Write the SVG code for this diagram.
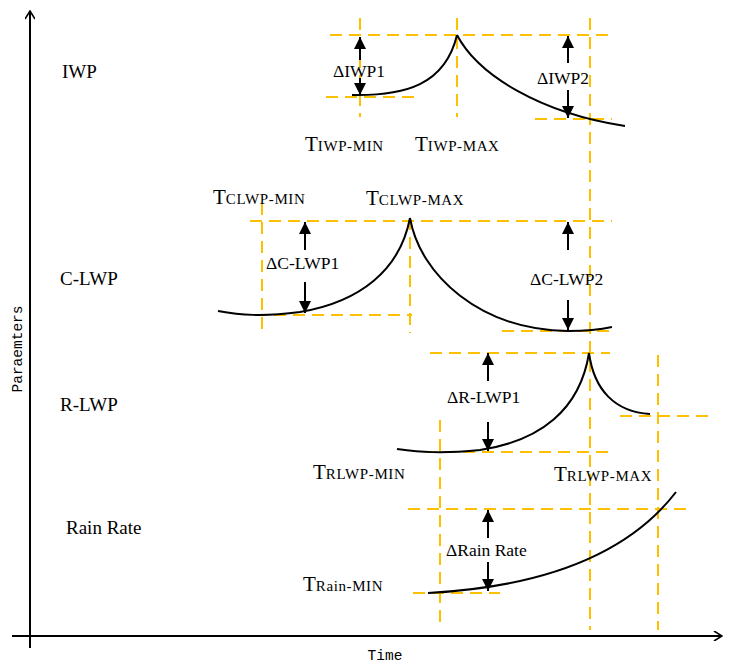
<svg xmlns="http://www.w3.org/2000/svg" width="732" height="668" viewBox="0 0 732 668">
<defs>
<marker id="open" viewBox="0 0 10 10" refX="9" refY="5" markerWidth="10" markerHeight="10" markerUnits="userSpaceOnUse" orient="auto">
<path d="M1,0 L9,5 L1,10" fill="none" stroke="#000" stroke-width="1.6"/>
</marker>
<marker id="tri" viewBox="0 0 10 10" refX="10" refY="5" markerWidth="14" markerHeight="12" markerUnits="userSpaceOnUse" orient="auto">
<path d="M0,0 L10,5 L0,10 Z" fill="#000"/>
</marker>
</defs>
<style>
.axis{stroke:#000;stroke-width:2;fill:none}
.dash{stroke:#FFC000;stroke-width:2;stroke-dasharray:12,7;fill:none}
.curve{stroke:#000;stroke-width:2;fill:none}
.arr{stroke:#000;stroke-width:2;fill:none;marker-end:url(#tri)}
.lbl{font-family:"Liberation Serif",serif;font-size:19px;fill:#000}
.dl{font-family:"Liberation Serif",serif;font-size:17.5px;fill:#000}
.t{font-family:"Liberation Serif",serif;font-size:21px;fill:#000}
.sub{font-size:15px;letter-spacing:0.6px}
.ax{font-family:"Liberation Mono",monospace;font-size:14.5px;fill:#000}
</style>
<rect width="732" height="668" fill="#fff"/>
<g id="axes">
<line class="axis" x1="30" y1="648" x2="30" y2="11" marker-end="url(#open)"/>
<line class="axis" x1="12" y1="636" x2="722" y2="636" marker-end="url(#open)"/>
<text class="ax" transform="translate(22,349) rotate(-90)" text-anchor="middle">Paraemters</text>
<text class="ax" x="385" y="660" text-anchor="middle">Time</text>
</g>
<g id="row-labels">
<text class="lbl" x="62" y="78">IWP</text>
<text class="lbl" x="60" y="285">C-LWP</text>
<text class="lbl" x="60" y="411">R-LWP</text>
<text class="lbl" x="66" y="534">Rain Rate</text>
</g>
<g id="guides">
<line class="dash" x1="330" y1="35" x2="612" y2="35"/>
<line class="dash" x1="360" y1="18" x2="360" y2="117"/>
<line class="dash" x1="457" y1="18" x2="457" y2="117"/>
<line class="dash" x1="590" y1="18" x2="590" y2="630"/>
<line class="dash" x1="326" y1="97" x2="416" y2="97"/>
<line class="dash" x1="535" y1="119" x2="612" y2="119"/>
<line class="dash" x1="250" y1="221" x2="612" y2="221"/>
<line class="dash" x1="262" y1="203" x2="262" y2="333"/>
<line class="dash" x1="410" y1="218" x2="410" y2="333"/>
<line class="dash" x1="255" y1="315" x2="412" y2="315"/>
<line class="dash" x1="502" y1="331" x2="612" y2="331"/>
<line class="dash" x1="430" y1="353" x2="610" y2="353"/>
<line class="dash" x1="658" y1="355" x2="658" y2="630"/>
<line class="dash" x1="620" y1="416" x2="708" y2="416"/>
<line class="dash" x1="425" y1="452" x2="608" y2="452"/>
<line class="dash" x1="440" y1="420" x2="440" y2="625"/>
<line class="dash" x1="408" y1="509" x2="686" y2="509"/>
<line class="dash" x1="413" y1="593" x2="500" y2="593"/>
</g>
<g id="curves">
<path class="curve" d="M352,95 C405,96 445,85 457,35"/>
<path class="curve" d="M457,35 C478,75 540,113 625,126"/>
<path class="curve" d="M218,311 C240,315 262,317 300,312 C360,302 400,270 410,218"/>
<path class="curve" d="M410,218 C420,275 480,330 568,331 C590,331 603,329 612,327"/>
<path class="curve" d="M397,449 C420,452 440,454 480,450 C540,441 580,410 589,353"/>
<path class="curve" d="M589,353 C594,390 615,412 650,414"/>
<path class="curve" d="M428,593 C520,588 620,565 676,492"/>
</g>
<g id="arrows">
<line class="arr" x1="360" y1="60" x2="360" y2="37"/>
<line class="arr" x1="360" y1="78" x2="360" y2="95"/>
<line class="arr" x1="568" y1="63" x2="568" y2="36"/>
<line class="arr" x1="568" y1="90" x2="568" y2="118"/>
<line class="arr" x1="305" y1="250" x2="305" y2="222"/>
<line class="arr" x1="305" y1="282" x2="305" y2="313"/>
<line class="arr" x1="568" y1="250" x2="568" y2="222"/>
<line class="arr" x1="568" y1="300" x2="568" y2="330"/>
<line class="arr" x1="488" y1="381" x2="488" y2="353"/>
<line class="arr" x1="488" y1="422" x2="488" y2="451"/>
<line class="arr" x1="488" y1="538" x2="488" y2="510"/>
<line class="arr" x1="488" y1="562" x2="488" y2="591"/>
</g>
<g id="delta-labels">
<text class="dl" x="333" y="77">ΔIWP1</text>
<text class="dl" x="537" y="84">ΔIWP2</text>
<text class="dl" x="266" y="269">ΔC-LWP1</text>
<text class="dl" x="530" y="285">ΔC-LWP2</text>
<text class="dl" x="447" y="403">ΔR-LWP1</text>
<text class="dl" x="446" y="556">ΔRain Rate</text>
</g>
<g id="time-labels">
<text class="t" x="305" y="151">T<tspan class="sub">IWP-MIN</tspan></text>
<text class="t" x="415" y="151">T<tspan class="sub">IWP-MAX</tspan></text>
<text class="t" x="213" y="204">T<tspan class="sub">CLWP-MIN</tspan></text>
<text class="t" x="366" y="205">T<tspan class="sub">CLWP-MAX</tspan></text>
<text class="t" x="313" y="479">T<tspan class="sub">RLWP-MIN</tspan></text>
<text class="t" x="554" y="481">T<tspan class="sub">RLWP-MAX</tspan></text>
<text class="t" x="303" y="591">T<tspan class="sub">Rain-MIN</tspan></text>
</g>
</svg>
